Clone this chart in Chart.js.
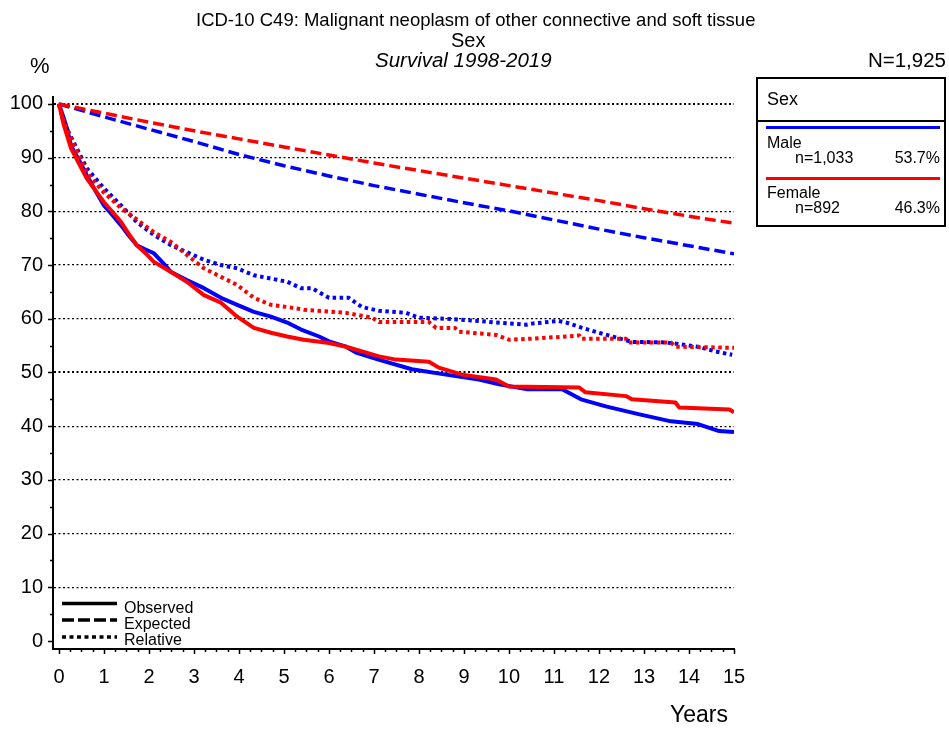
<!DOCTYPE html>
<html>
<head>
<meta charset="utf-8">
<title>ICD-10 C49 survival by sex</title>
<script src="https://cdn.jsdelivr.net/npm/chart.js@4.4.1/dist/chart.umd.min.js"></script>
<style>
  html, body { margin: 0; padding: 0; background: #fff; }
  #wrap { position: relative; width: 949px; height: 731px; overflow: hidden;
          font-family: "Liberation Sans", Arial, Helvetica, sans-serif; color: #000; }
  #wrap canvas { position: absolute; left: 0; top: 0; }
  .t { position: absolute; white-space: nowrap; line-height: 1; }
  .r { text-align: right; }
  #box { position: absolute; left: 756px; top: 77px; width: 190px; height: 150px;
         border: 2px solid #000; box-sizing: border-box; }
  .bar { position: absolute; }
  svg { position: absolute; left: 0; top: 0; overflow: visible; }
</style>
</head>
<body>
<div id="wrap">
  <canvas id="chart" width="949" height="731"></canvas>

  <div class="t" style="left:196px;top:11px;font-size:18.5px;">ICD-10 C49: Malignant neoplasm of other connective and soft tissue</div>
  <div class="t" style="left:451px;top:30px;font-size:20px;">Sex</div>
  <div class="t" style="left:375px;top:50px;font-size:20.5px;font-style:italic;">Survival 1998-2019</div>
  <div class="t r" style="right:3px;top:50px;font-size:20.5px;">N=1,925</div>
  <div class="t" style="left:30px;top:55px;font-size:22px;">%</div>
  <div class="t" style="left:670px;top:703px;font-size:23px;">Years</div>

  <div id="box"></div>
  <div class="t" style="left:767px;top:90px;font-size:18px;">Sex</div>
  <div class="bar" style="left:757px;top:120px;width:189px;height:1.5px;background:#000;"></div>
  <div class="bar" style="left:766px;top:126px;width:174px;height:3px;background:#0000ff;"></div>
  <div class="t" style="left:767px;top:135px;font-size:16px;">Male</div>
  <div class="t" style="left:795px;top:150px;font-size:16px;">n=1,033</div>
  <div class="t r" style="right:9px;top:150px;font-size:16px;">53.7%</div>
  <div class="bar" style="left:766px;top:177px;width:174px;height:3px;background:#ff0000;"></div>
  <div class="t" style="left:767px;top:185px;font-size:16px;">Female</div>
  <div class="t" style="left:795px;top:200px;font-size:16px;">n=892</div>
  <div class="t r" style="right:9px;top:200px;font-size:16px;">46.3%</div>

  <svg width="949" height="731">
    <line x1="62" y1="603.5" x2="117" y2="603.5" stroke="#000" stroke-width="3.5"/>
    <line x1="62" y1="620" x2="117" y2="620" stroke="#000" stroke-width="3.5" stroke-dasharray="12 4"/>
    <line x1="62" y1="637" x2="117" y2="637" stroke="#000" stroke-width="3.5" stroke-dasharray="4 3.5"/>
  </svg>
  <div class="t" style="left:124px;top:600px;font-size:16px;">Observed</div>
  <div class="t" style="left:124px;top:616px;font-size:16px;">Expected</div>
  <div class="t" style="left:124px;top:632px;font-size:16px;">Relative</div>
</div>

<script>
// Axis ticks
const xTickValues = [0,1,2,3,4,5,6,7,8,9,10,11,12,13,14,15];
const yTickValues = [0,10,20,30,40,50,60,70,80,90,100];

// Observed survival (%), by years since diagnosis
const maleObsYears = [0,0.1,0.18,0.27,0.45,0.62,0.8,1.0,1.2,1.38,1.55,1.73,1.9,2.11,2.3,2.49,2.84,3.22,3.6,3.96,4.33,4.71,5.07,5.38,5.78,6.0,6.38,6.6,7.1,7.84,8.6,9.33,9.78,10.38,11.18,11.6,12.15,12.9,13.6,14.2,14.67,15];
const maleObs      = [100,97.5,95.4,92.2,89.5,86.7,84.0,81.1,79.2,77.4,75.5,73.7,73.0,72.2,70.5,68.7,67.2,65.7,63.9,62.6,61.3,60.4,59.3,58.0,56.7,55.8,54.8,53.7,52.4,50.6,49.6,48.7,47.8,46.9,46.9,45.0,43.7,42.2,40.9,40.4,39.1,38.9];

const femaleObsYears = [0,0.11,0.27,0.45,0.62,0.8,1.0,1.2,1.38,1.55,1.73,1.9,2.11,2.49,2.84,3.22,3.6,3.96,4.33,4.71,5.07,5.44,6.0,6.38,7.11,7.49,8.22,8.44,8.96,9.71,10.0,11.56,11.7,12.6,12.73,13.7,13.78,14.9,15];
const femaleObs      = [100,96.0,91.7,88.8,86.1,84.0,81.7,79.8,78.0,75.8,73.7,72.4,70.6,68.7,66.9,64.4,63.0,60.4,58.3,57.4,56.7,56.1,55.5,54.8,53.0,52.4,52.0,50.9,49.6,48.7,47.4,47.2,46.3,45.6,45.0,44.4,43.5,43.1,42.6];

// Expected survival (%) of the matched general population
const expYears    = [0,1,2,3,4,5,6,7,8,9,10,11,12,13,14,15];
const maleExp     = [100,97.6,95.3,93.0,90.6,88.5,86.6,84.8,83.2,81.6,80.1,78.4,76.7,75.1,73.6,72.1];
const femaleExp   = [100,98.3,96.6,95.0,93.5,92.0,90.5,89.0,87.6,86.2,84.8,83.4,82.0,80.5,79.1,77.8];

// Relative survival (%)
const maleRelYears = [0,0.11,0.62,1.0,1.38,1.73,2.11,2.49,2.84,3.22,3.6,3.96,4.33,4.71,5.07,5.38,5.62,6.0,6.44,6.73,7.11,7.71,8.0,8.6,9.33,9.71,10.38,10.51,11.1,11.27,11.56,12.0,12.73,13.49,14.2,14.6,14.96];
const maleRel      = [100,96.5,88.0,84.3,81.1,78.0,75.6,73.7,72.4,71.0,70.0,69.4,68.1,67.5,66.9,65.7,65.7,63.9,63.9,62.2,61.5,61.1,60.2,60.0,59.6,59.3,58.9,59.1,59.6,59.3,58.5,57.4,55.7,55.6,54.8,53.9,53.3];

const femaleRelYears = [0,0.11,0.62,1.0,1.38,1.73,2.11,2.49,2.84,3.22,3.6,3.96,4.33,4.71,5.07,5.44,6.38,6.96,7.11,8.22,8.38,8.8,8.89,9.71,10.0,10.5,11.27,11.56,11.6,12.6,12.65,13.6,13.7,15];
const femaleRel      = [100,96.5,87.2,83.5,80.6,78.5,76.1,74.3,71.9,69.4,67.8,66.3,63.9,62.6,62.2,61.7,61.1,60.2,59.4,59.4,58.3,58.3,57.6,57.0,56.1,56.3,56.7,56.9,56.3,56.3,55.6,55.6,54.8,54.6];

const BLUE = '#0000ff';
const RED = '#ff0000';

function pts(xs, ys) { return xs.map((x, i) => ({ x: x, y: ys[i] })); }

const solid = [];
const dashed = [11, 5];
const dotted = [3.5, 3.5];

function series(label, xs, ys, color, dash, width) {
  return {
    label: label,
    data: pts(xs, ys),
    borderColor: color,
    backgroundColor: color,
    borderWidth: width,
    borderDash: dash,
    borderCapStyle: 'butt',
    borderJoinStyle: 'round',
    pointRadius: 0,
    tension: 0,
    fill: false
  };
}

// Minor and major tick marks outside the plot area
const tickMarks = {
  id: 'tickMarks',
  afterDraw(chart) {
    const ctx = chart.ctx;
    const xs = chart.scales.x, ys = chart.scales.y;
    const area = chart.chartArea;
    ctx.save();
    ctx.strokeStyle = '#000';
    ctx.lineWidth = 1.5;
    ctx.beginPath();
    for (let v = 0; v <= 100; v += 5) {
      const py = Math.round(ys.getPixelForValue(v)) + 0.5;
      const len = (v % 10 === 0) ? 5 : 3;
      ctx.moveTo(area.left - len, py);
      ctx.lineTo(area.left, py);
    }
    for (let q = 0; q <= 60; q++) {
      const v = q / 4;
      const px = Math.round(xs.getPixelForValue(v)) + 0.5;
      const len = (q % 4 === 0) ? 5 : 3;
      ctx.moveTo(px, area.bottom);
      ctx.lineTo(px, area.bottom + len);
    }
    ctx.stroke();
    ctx.restore();
  }
};

const FONT = '"Liberation Sans", Arial, Helvetica, sans-serif';

new Chart(document.getElementById('chart'), {
  type: 'line',
  data: {
    datasets: [
      series('Female observed', femaleObsYears, femaleObs, RED, solid, 4),
      series('Female expected', expYears, femaleExp, RED, dashed, 3.5),
      series('Female relative', femaleRelYears, femaleRel, RED, dotted, 4),
      series('Male observed', maleObsYears, maleObs, BLUE, solid, 4),
      series('Male expected', expYears, maleExp, BLUE, dashed, 3.5),
      series('Male relative', maleRelYears, maleRel, BLUE, dotted, 4)
    ]
  },
  options: {
    responsive: false,
    animation: false,
    devicePixelRatio: 1,
    layout: { padding: { left: 0, right: 215, top: 97, bottom: 0 } },
    plugins: {
      legend: { display: false },
      title: { display: false },
      tooltip: { enabled: false }
    },
    scales: {
      x: {
        type: 'linear',
        min: -0.133,
        max: 15,
        afterFit(scale) { scale.height = 82; },
        afterBuildTicks(scale) { scale.ticks = xTickValues.map(v => ({ value: v })); },
        ticks: {
          color: '#000',
          font: { family: FONT, size: 20 },
          padding: 16,
          maxRotation: 0,
          autoSkip: false,
          callback: (v) => String(v)
        },
        grid: { display: false, drawTicks: false },
        border: { display: true, color: '#000', width: 2 }
      },
      y: {
        type: 'linear',
        min: -1.49,
        max: 101.3,
        afterFit(scale) { scale.width = 53; },
        afterBuildTicks(scale) { scale.ticks = yTickValues.map(v => ({ value: v })); },
        ticks: {
          color: '#000',
          font: { family: FONT, size: 20 },
          padding: 10,
          autoSkip: false,
          callback: (v) => String(v)
        },
        grid: {
          drawTicks: false,
          color: (c) => (c.tick && c.tick.value > 0) ? '#000' : 'rgba(0,0,0,0)',
          lineWidth: (c) => (c.tick && (c.tick.value === 50 || c.tick.value === 100)) ? 2 : 1.2
        },
        border: { display: true, color: '#000', width: 2, dash: [2, 2.5] }
      }
    }
  },
  plugins: [tickMarks]
});
</script>
</body>
</html>
